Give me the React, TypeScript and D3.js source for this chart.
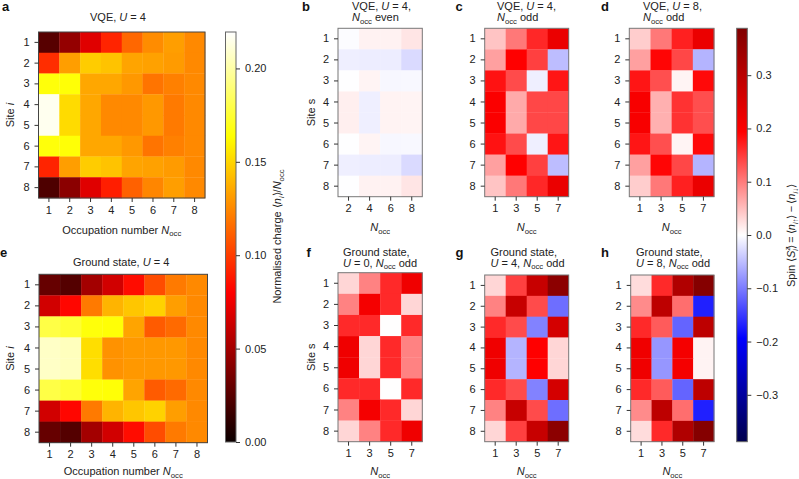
import { useEffect, useRef } from "react";
import * as d3 from "d3";

const W = 799;
const H = 479;
const FONT = "'Liberation Sans', Arial, sans-serif";

const sites = [1, 2, 3, 4, 5, 6, 7, 8];
const occAll = [1, 2, 3, 4, 5, 6, 7, 8];
const occEven = [2, 4, 6, 8];
const occOdd = [1, 3, 5, 7];

// charge <n_i>/N_occ, rows = sites, columns = N_occ
const chargeVqe = [
  [0.025, 0.045, 0.07, 0.092, 0.114, 0.126, 0.132, 0.125],
  [0.095, 0.132, 0.147, 0.144, 0.134, 0.133, 0.131, 0.125],
  [0.166, 0.165, 0.135, 0.135, 0.13, 0.118, 0.122, 0.125],
  [0.216, 0.152, 0.135, 0.125, 0.125, 0.13, 0.12, 0.125],
  [0.216, 0.152, 0.135, 0.125, 0.125, 0.13, 0.12, 0.125],
  [0.166, 0.165, 0.135, 0.135, 0.13, 0.118, 0.122, 0.125],
  [0.092, 0.132, 0.147, 0.144, 0.134, 0.133, 0.131, 0.125],
  [0.022, 0.042, 0.07, 0.09, 0.112, 0.124, 0.132, 0.125],
];
const chargeGround = [
  [0.03, 0.024, 0.05, 0.065, 0.084, 0.105, 0.12, 0.125],
  [0.065, 0.082, 0.12, 0.139, 0.145, 0.149, 0.132, 0.125],
  [0.179, 0.175, 0.166, 0.165, 0.134, 0.11, 0.115, 0.125],
  [0.207, 0.205, 0.153, 0.128, 0.13, 0.13, 0.13, 0.125],
  [0.207, 0.205, 0.153, 0.128, 0.13, 0.13, 0.13, 0.125],
  [0.179, 0.175, 0.166, 0.165, 0.134, 0.11, 0.115, 0.125],
  [0.065, 0.082, 0.12, 0.139, 0.145, 0.149, 0.132, 0.125],
  [0.03, 0.024, 0.05, 0.065, 0.084, 0.105, 0.12, 0.125],
];

// spin <S_i^z>, rows = sites, columns = N_occ
const spinVqeEven = [
  [-0.002, 0.01, 0.01, 0.02],
  [-0.012, -0.014, -0.014, -0.028],
  [-0.001, 0.008, -0.006, -0.005],
  [0.012, -0.012, 0.009, 0.008],
  [0.012, -0.012, 0.009, 0.008],
  [-0.001, 0.008, -0.006, -0.005],
  [-0.012, -0.014, -0.014, -0.028],
  [-0.001, 0.01, 0.01, 0.02],
];
const spinVqeOddU4 = [
  [0.045, 0.103, 0.164, 0.225],
  [0.072, 0.194, 0.145, -0.05],
  [0.18, 0.137, -0.012, 0.178],
  [0.2, 0.065, 0.14, 0.14],
  [0.2, 0.065, 0.14, 0.14],
  [0.18, 0.137, -0.012, 0.178],
  [0.072, 0.194, 0.145, -0.05],
  [0.045, 0.103, 0.164, 0.225],
];
const spinVqeOddU8 = [
  [0.038, 0.103, 0.17, 0.225],
  [0.072, 0.19, 0.14, -0.057],
  [0.178, 0.134, 0.008, 0.187],
  [0.205, 0.06, 0.156, 0.135],
  [0.205, 0.06, 0.156, 0.135],
  [0.178, 0.134, 0.008, 0.187],
  [0.072, 0.19, 0.14, -0.057],
  [0.038, 0.103, 0.17, 0.225],
];
const spinGroundU0 = [
  [0.031, 0.095, 0.163, 0.217],
  [0.095, 0.21, 0.163, 0.031],
  [0.163, 0.163, 0.001, 0.163],
  [0.217, 0.031, 0.163, 0.095],
  [0.217, 0.031, 0.163, 0.095],
  [0.163, 0.163, 0.001, 0.163],
  [0.095, 0.21, 0.163, 0.031],
  [0.031, 0.095, 0.163, 0.217],
];
const spinGroundU4 = [
  [0.031, 0.145, 0.279, 0.369],
  [0.095, 0.279, 0.137, -0.11],
  [0.163, 0.137, -0.095, 0.26],
  [0.217, -0.057, 0.194, 0.031],
  [0.217, -0.057, 0.194, 0.031],
  [0.163, 0.137, -0.095, 0.26],
  [0.095, 0.279, 0.137, -0.11],
  [0.031, 0.145, 0.279, 0.369],
];
const spinGroundU8 = [
  [0.027, 0.163, 0.315, 0.38],
  [0.088, 0.295, 0.11, -0.17],
  [0.163, 0.125, -0.118, 0.295],
  [0.217, -0.08, 0.21, 0.009],
  [0.217, -0.08, 0.21, 0.009],
  [0.163, 0.125, -0.118, 0.295],
  [0.088, 0.295, 0.11, -0.17],
  [0.027, 0.163, 0.315, 0.38],
];

const chargeTicks = [0, 0.05, 0.1, 0.15, 0.2];
const spinTicks = [-0.3, -0.2, -0.1, 0, 0.1, 0.2, 0.3];
const CHARGE_MAX = 0.2195;
const SPIN_MAX = 0.388;

type Seg = { t: string; i?: boolean; sub?: boolean; sup?: boolean; dx?: number };

const hot = d3
  .scaleLinear<string>()
  .domain([0, 0.365, 0.746, 1].map((t) => t * CHARGE_MAX))
  .range(["#0b0000", "#ff0000", "#ffff00", "#ffffff"])
  .clamp(true);
const seismic = d3
  .scaleLinear<string>()
  .domain([-1, -0.5, 0, 0.5, 1].map((t) => t * SPIN_MAX))
  .range(["#00004d", "#0000ff", "#ffffff", "#ff0000", "#800000"])
  .clamp(true);

const N_OCC: Seg[] = [{ t: "N", i: true }, { t: "occ", sub: true }];
const U = (v: number): Seg[] => [{ t: "U", i: true }, { t: ` = ${v}` }];

const charts = [
  {
    tag: "a", x0: 38.5, x1: 205, y0: 32, y1: 198, data: chargeVqe, xs: occAll, color: hot, spine: "#444",
    tagX: 2, tagY: 10.5, yVar: "i", yLabelX: 14, xLabelDy: 35.5,
    titleX: 90, title: [[{ t: "VQE, " }, ...U(4)]], titleY: 21,
    xLabel: [{ t: "Occupation number " }, ...N_OCC],
  },
  {
    tag: "e", x0: 39, x1: 207.5, y0: 274.3, y1: 442.7, data: chargeGround, xs: occAll, color: hot, spine: "#444",
    tagX: 0, tagY: 257, yVar: "i", yLabelX: 14, xLabelDy: 32.5,
    titleX: 73, title: [[{ t: "Ground state, " }, ...U(4)]], titleY: 266,
    xLabel: [{ t: "Occupation number " }, ...N_OCC],
  },
  {
    tag: "b", x0: 338, x1: 422.3, y0: 28.3, y1: 196.7, data: spinVqeEven, xs: occEven, color: seismic, spine: "#777",
    tagX: 302, tagY: 11, yVar: "s", yLabelX: 315, xLabelDy: 34,
    titleX: 352, title: [[{ t: "VQE, " }, ...U(4), { t: "," }], [...N_OCC, { t: " even" }]], titleY: 10,
    xLabel: N_OCC,
  },
  {
    tag: "c", x0: 484.7, x1: 568.7, y0: 28.3, y1: 196.7, data: spinVqeOddU4, xs: occOdd, color: seismic, spine: "#777",
    tagX: 455.5, tagY: 11, yVar: "", yLabelX: 0, xLabelDy: 34,
    titleX: 497, title: [[{ t: "VQE, " }, ...U(4), { t: "," }], [...N_OCC, { t: " odd" }]], titleY: 10,
    xLabel: N_OCC,
  },
  {
    tag: "d", x0: 629.3, x1: 714, y0: 28.3, y1: 196.7, data: spinVqeOddU8, xs: occOdd, color: seismic, spine: "#777",
    tagX: 601, tagY: 11, yVar: "", yLabelX: 0, xLabelDy: 34,
    titleX: 643, title: [[{ t: "VQE, " }, ...U(8), { t: "," }], [...N_OCC, { t: " odd" }]], titleY: 10,
    xLabel: N_OCC,
  },
  {
    tag: "f", x0: 338, x1: 422.3, y0: 272.7, y1: 441.7, data: spinGroundU0, xs: occOdd, color: seismic, spine: "#777",
    tagX: 306.5, tagY: 257, yVar: "s", yLabelX: 315, xLabelDy: 33.5,
    titleX: 343, title: [[{ t: "Ground state," }], [...U(0), { t: ", " }, ...N_OCC, { t: " odd" }]], titleY: 255.5,
    xLabel: N_OCC,
  },
  {
    tag: "g", x0: 484.7, x1: 568.7, y0: 275, y1: 441.7, data: spinGroundU4, xs: occOdd, color: seismic, spine: "#777",
    tagX: 455.5, tagY: 257, yVar: "", yLabelX: 0, xLabelDy: 33.5,
    titleX: 490.5, title: [[{ t: "Ground state," }], [...U(4), { t: ", " }, ...N_OCC, { t: " odd" }]], titleY: 255.5,
    xLabel: N_OCC,
  },
  {
    tag: "h", x0: 630.7, x1: 714, y0: 275, y1: 441.7, data: spinGroundU8, xs: occOdd, color: seismic, spine: "#777",
    tagX: 601, tagY: 257, yVar: "", yLabelX: 0, xLabelDy: 33.5,
    titleX: 636, title: [[{ t: "Ground state," }], [...U(8), { t: ", " }, ...N_OCC, { t: " odd" }]], titleY: 255.5,
    xLabel: N_OCC,
  },
];

const TEXT = "#222";

function addRich(sel: any, segs: Seg[], fs: number) {
  let shift = 0;
  segs.forEach((s) => {
    const target = s.sub ? fs * 0.27 : s.sup ? -fs * 0.42 : 0;
    const ts = sel
      .append("tspan")
      .attr("dy", target - shift)
      .attr("font-size", s.sub || s.sup ? fs * 0.7 : fs)
      .attr("font-style", s.i ? "italic" : "normal")
      .text(s.t);
    if (s.dx) ts.attr("dx", s.dx);
    shift = target;
  });
}

function styleAxis(g: any) {
  g.select(".domain").remove();
  g.selectAll("line").attr("stroke", "#333").attr("stroke-width", 1);
  g.selectAll("text").attr("fill", TEXT).attr("font-size", 11).attr("font-family", FONT);
}

/** Two heatmap families sharing colour bars, drawn through a ref. */
export default function App() {
  const svgRef = useRef<SVGSVGElement | null>(null);

  useEffect(() => {
    const svg = d3.select(svgRef.current);
    svg.selectAll("*").remove();
    svg.attr("font-family", FONT);

    charts.forEach((c) => {
      const x = d3.scaleBand<number>().domain(c.xs).range([c.x0, c.x1]);
      const y = d3.scaleBand<number>().domain(sites).range([c.y0, c.y1]);
      const g = svg.append("g");

      c.data.forEach((row, r) => {
        row.forEach((v, k) => {
          g.append("rect")
            .attr("x", x(c.xs[k]) as number)
            .attr("y", y(sites[r]) as number)
            .attr("width", x.bandwidth() + 0.3)
            .attr("height", y.bandwidth() + 0.3)
            .attr("fill", c.color(v));
        });
      });
      g.append("rect")
        .attr("x", c.x0)
        .attr("y", c.y0)
        .attr("width", c.x1 - c.x0)
        .attr("height", c.y1 - c.y0)
        .attr("fill", "none")
        .attr("stroke", c.spine)
        .attr("stroke-width", 1);

      g.append("g")
        .attr("transform", `translate(0,${c.y1})`)
        .call(d3.axisBottom(x).tickSize(4).tickPadding(4) as any)
        .call(styleAxis);
      g.append("g")
        .attr("transform", `translate(${c.x0},0)`)
        .call(d3.axisLeft(y).tickSize(4).tickPadding(5) as any)
        .call(styleAxis);

      // panel letter
      svg.append("text").attr("x", c.tagX).attr("y", c.tagY).attr("font-size", 13).attr("font-weight", "bold").attr("fill", "#111").text(c.tag);

      // title, one or two left-aligned lines
      c.title.forEach((line, i) => {
        const t = svg.append("text").attr("x", c.titleX).attr("y", c.titleY + i * 11).attr("fill", TEXT);
        addRich(t, line as Seg[], 11);
      });

      // x label
      const xl = svg
        .append("text")
        .attr("x", (c.x0 + c.x1) / 2)
        .attr("y", c.y1 + c.xLabelDy)
        .attr("text-anchor", "middle")
        .attr("fill", TEXT);
      addRich(xl, c.xLabel as Seg[], 11);

      // y label
      if (c.yVar) {
        const yl = svg
          .append("text")
          .attr("transform", `translate(${c.yLabelX},${(c.y0 + c.y1) / 2}) rotate(-90)`)
          .attr("text-anchor", "middle")
          .attr("fill", TEXT);
        addRich(yl, [{ t: "Site " }, { t: c.yVar, i: c.yVar === "i" }], 11);
      }
    });

    // colour bars
    const defs = svg.append("defs");
    const addBar = (
      id: string,
      color: d3.ScaleLinear<string, string>,
      lo: number,
      hi: number,
      ticks: number[],
      x0: number,
      x1: number,
      y0: number,
      y1: number,
      fmt: (v: number) => string
    ) => {
      const y = d3.scaleLinear().domain([lo, hi]).range([y1, y0]);
      const grad = defs.append("linearGradient").attr("id", id).attr("x1", 0).attr("x2", 0).attr("y1", 1).attr("y2", 0);
      color.domain().forEach((d) => {
        grad.append("stop").attr("offset", (d - lo) / (hi - lo)).attr("stop-color", color(d));
      });
      svg.append("rect").attr("x", x0).attr("y", y0).attr("width", x1 - x0).attr("height", y1 - y0).attr("fill", `url(#${id})`).attr("stroke", "#666").attr("stroke-width", 1);
      svg
        .append("g")
        .attr("transform", `translate(${x1},0)`)
        .call(d3.axisRight(y).tickValues(ticks).tickFormat(fmt as any).tickSize(4).tickPadding(5) as any)
        .call(styleAxis);
    };
    addBar("hotBar", hot, 0, CHARGE_MAX, chargeTicks, 225.5, 236, 32, 442, (v) => v.toFixed(2));
    addBar("seismicBar", seismic, -SPIN_MAX, SPIN_MAX, spinTicks, 736.7, 747.3, 28.3, 441.7, (v) => (v < 0 ? `\u2212${Math.abs(v).toFixed(1)}` : v.toFixed(1)));

    const chargeLabel = svg
      .append("text")
      .attr("transform", `translate(281,236.5) rotate(-90)`)
      .attr("text-anchor", "middle")
      .attr("fill", TEXT);
    addRich(chargeLabel, [{ t: "Normalised charge \u27E8" }, { t: "n", i: true }, { t: "i", i: true, sub: true }, { t: "\u27E9/" }, { t: "N", i: true }, { t: "occ", sub: true }], 11);

    const spinLabel = svg
      .append("text")
      .attr("transform", `translate(795,235.5) rotate(-90)`)
      .attr("text-anchor", "middle")
      .attr("fill", TEXT);
    addRich(
      spinLabel,
      [
        { t: "Spin \u27E8" },
        { t: "S", i: true },
        { t: "z", i: true, sup: true },
        { t: "i", i: true, sub: true, dx: -4 },
        { t: "\u27E9\u2009=\u2009\u27E8" },
        { t: "n", i: true },
        { t: "i\u2191", i: true, sub: true },
        { t: "\u27E9\u2009\u2212\u2009\u27E8" },
        { t: "n", i: true },
        { t: "i\u2193", i: true, sub: true },
        { t: "\u27E9" },
      ],
      11
    );
  }, []);

  return (
    <svg
      ref={svgRef}
      width={W}
      height={H}
      viewBox={`0 0 ${W} ${H}`}
      style={{ position: "absolute", left: 0, top: 0, background: "#fff" }}
    />
  );
}
